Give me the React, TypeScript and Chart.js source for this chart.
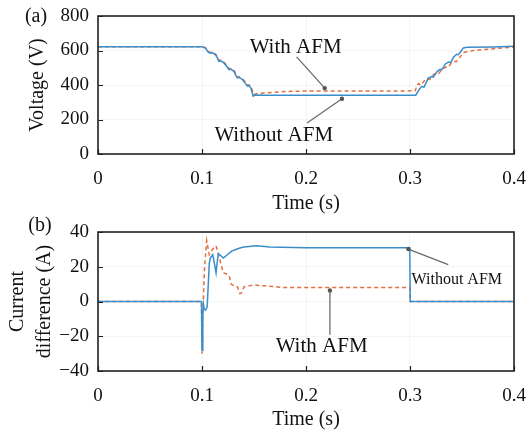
import React, { useEffect, useRef } from "react";
import { Chart, registerables } from "chart.js";

Chart.register(...registerables);

// ---------- data ----------
const xTicks = [0, 0.1, 0.2, 0.3, 0.4];
const voltageTicks = [0, 200, 400, 600, 800];
const currentTicks = [-40, -20, 0, 20, 40];

// (a) Voltage, Without AFM (blue, solid)
const voltTimeWithout = [
  0, 0.1, 0.1032, 0.106, 0.1081, 0.11, 0.113, 0.1145, 0.1162, 0.118, 0.121, 0.1235,
  0.1259, 0.1275, 0.1307, 0.1322, 0.134, 0.1355, 0.1388, 0.141, 0.1437, 0.145, 0.1469,
  0.1492, 0.151, 0.16, 0.3055, 0.309, 0.3112, 0.3135, 0.3176, 0.3208, 0.3225, 0.326,
  0.3288, 0.3305, 0.334, 0.337, 0.339, 0.342, 0.3449, 0.3465, 0.3495, 0.3513, 0.355,
  0.38, 0.4,
];
const voltWithout = [
  622, 622, 614, 590, 585, 588, 575, 560, 537, 540, 528, 510,
  489, 492, 479, 460, 441, 444, 432, 415, 393, 396, 384,
  336, 342, 341, 341, 376, 391, 388, 440, 449, 446, 478,
  491, 488, 522, 533, 530, 562, 578, 576, 600, 615, 619,
  621, 624,
];

// (a) Voltage, With AFM (orange, dashed)
const voltTimeWith = [
  0, 0.1, 0.1035, 0.1062, 0.1083, 0.1102, 0.1132, 0.1147, 0.1165, 0.1182, 0.1212,
  0.1237, 0.1262, 0.1278, 0.131, 0.1325, 0.1343, 0.1358, 0.139, 0.1412, 0.144, 0.1452,
  0.1472, 0.1495, 0.152, 0.16, 0.17, 0.18, 0.2, 0.305, 0.3068, 0.3085, 0.31, 0.314,
  0.317, 0.319, 0.3225, 0.3255, 0.3275, 0.331, 0.334, 0.336, 0.3395, 0.3425, 0.3445,
  0.348, 0.3513, 0.3609, 0.38, 0.4,
];
const voltWith = [
  622, 622, 616, 594, 588, 591, 578, 563, 541, 544, 532,
  514, 493, 496, 483, 464, 445, 448, 436, 420, 398, 401,
  392, 345, 350, 354, 358, 362, 365, 366, 400, 408, 398, 425,
  435, 432, 460, 470, 466, 492, 503, 500, 525, 538, 535,
  560, 588, 600, 610, 620,
];

// (b) Current difference, Without AFM (blue, solid)
const curTimeWithout = [
  0, 0.0995, 0.1, 0.1008, 0.1015, 0.102, 0.1035, 0.105, 0.107, 0.108, 0.1103, 0.1125,
  0.1135, 0.1145, 0.1157, 0.118, 0.1205, 0.1235, 0.1285, 0.135, 0.14, 0.1526, 0.165,
  0.2, 0.2998, 0.3002, 0.4,
];
const curWithout = [
  0, 0, -28, -8, -2, -4, -5, -3, 22, 25, 27, 20,
  16.5, 22, 27.5, 26.5, 25, 26.5, 29, 30.5, 31.4, 32.1, 31.3,
  31, 31, 0, 0,
];

// (b) Current difference, With AFM (orange, dashed)
const curTimeWith = [
  0, 0.0995, 0.1, 0.1005, 0.1025, 0.1045, 0.107, 0.11, 0.1135, 0.116, 0.118, 0.1205,
  0.123, 0.126, 0.128, 0.131, 0.134, 0.1365, 0.138, 0.1405, 0.145, 0.15, 0.16, 0.18,
  0.2998, 0.3002, 0.4,
];
const curWith = [
  0, 0, -30, -12, 20, 35, 27, 30, 32, 27, 22, 16.5,
  16, 15, 10, 9, 8.5, 4.5, 5, 8.5, 9, 9.5, 9, 8,
  8, 0, 0,
];

// annotations: text anchor + leader line (data coordinates), dot at (x2, y2)
const notesA = [
  { text: "With AFM", tx: 0.19, ty: 620, size: 21, x1: 0.191, y1: 563, x2: 0.218, y2: 382 },
  { text: "Without AFM", tx: 0.169, ty: 106, size: 21, x1: 0.201, y1: 180, x2: 0.2346, y2: 320 },
];
const notesB = [
  { text: "Without AFM", tx: 0.345, ty: 12.5, size: 16, x1: 0.3368, y1: 21.2, x2: 0.2984, y2: 30.2 },
  { text: "With AFM", tx: 0.215, ty: -25.8, size: 21, x1: 0.223, y1: -19.1, x2: 0.223, y2: 6.4 },
];

// ---------- styling ----------
const FONT = "'Liberation Serif', 'Times New Roman', serif";
const BLUE = "#3A8DCB";
const ORANGE = "#E2703F";
const INK = "#111";
const W = 528;
const H = 216;

const zip = (xs: number[], ys: number[]) => xs.map((x, i) => ({ x, y: ys[i] }));
const fmtX = (v: number) => (v === 0 ? "0" : Number(v).toFixed(1));
const fmtY = (v: number) => (v < 0 ? "\u2212" + Math.abs(v) : String(v));

const framePlugin = {
  id: "frame",
  afterDatasetsDraw(chart: any) {
    const { ctx, chartArea: a, scales } = chart;
    ctx.save();
    ctx.strokeStyle = "#222";
    ctx.lineWidth = 1.2;
    ctx.beginPath();
    scales.x.ticks.forEach((t: any) => {
      const px = Math.round(scales.x.getPixelForValue(t.value)) + 0.5;
      ctx.moveTo(px, a.bottom);
      ctx.lineTo(px, a.bottom - 5);
    });
    scales.y.ticks.forEach((t: any) => {
      const py = Math.round(scales.y.getPixelForValue(t.value)) + 0.5;
      ctx.moveTo(a.left, py);
      ctx.lineTo(a.left + 5, py);
    });
    ctx.stroke();
    ctx.lineWidth = 1.6;
    ctx.strokeRect(a.left, a.top, a.right - a.left, a.bottom - a.top);
    ctx.restore();
  },
};

function makeNotesPlugin(notes: any[], panel: string, px: number, py: number) {
  return {
    id: "notes",
    afterDraw(chart: any) {
      const { ctx, scales } = chart;
      const X = (v: number) => scales.x.getPixelForValue(v);
      const Y = (v: number) => scales.y.getPixelForValue(v);
      ctx.save();
      notes.forEach((n) => {
        ctx.strokeStyle = "#6b6b6b";
        ctx.lineWidth = 1.3;
        ctx.beginPath();
        ctx.moveTo(X(n.x1), Y(n.y1));
        ctx.lineTo(X(n.x2), Y(n.y2));
        ctx.stroke();
        ctx.fillStyle = "#555";
        ctx.beginPath();
        ctx.arc(X(n.x2), Y(n.y2), 2.2, 0, Math.PI * 2);
        ctx.fill();
        ctx.fillStyle = INK;
        ctx.font = `${n.size}px ${FONT}`;
        ctx.textAlign = "center";
        ctx.textBaseline = "middle";
        ctx.fillText(n.text, X(n.tx), Y(n.ty));
      });
      ctx.fillStyle = INK;
      ctx.font = `20px ${FONT}`;
      ctx.textAlign = "center";
      ctx.textBaseline = "middle";
      ctx.fillText(panel, px, py);
      ctx.restore();
    },
  };
}

function buildConfig(opts: {
  blue: { x: number; y: number }[];
  orange: { x: number; y: number }[];
  yMin: number;
  yMax: number;
  yTicks: number[];
  yTitle: string | string[];
  yTitlePad: number;
  yLineHeight: number;
  top: number;
  xAxisHeight: number;
  notes: any;
}) {
  return {
    type: "line",
    data: {
      datasets: [
        {
          label: "Without AFM",
          data: opts.blue,
          borderColor: BLUE,
          borderWidth: 1.5,
          pointRadius: 0,
          tension: 0,
          fill: false,
        },
        {
          label: "With AFM",
          data: opts.orange,
          borderColor: ORANGE,
          borderWidth: 1.5,
          borderDash: [4, 3],
          pointRadius: 0,
          tension: 0,
          fill: false,
        },
      ],
    },
    options: {
      responsive: false,
      animation: false,
      events: [],
      layout: { padding: { left: 0, right: 14, top: opts.top, bottom: 0 } },
      plugins: { legend: { display: false }, tooltip: { enabled: false }, title: { display: false } },
      scales: {
        x: {
          type: "linear",
          min: 0,
          max: 0.4,
          afterBuildTicks: (s: any) => {
            s.ticks = xTicks.map((v) => ({ value: v }));
          },
          afterFit: (s: any) => {
            s.height = opts.xAxisHeight;
            s.paddingLeft = 0;
            s.paddingRight = 0;
          },
          ticks: {
            callback: (v: any) => fmtX(Number(v)),
            font: { family: FONT, size: 19 },
            color: INK,
            padding: 14,
            maxRotation: 0,
            autoSkip: false,
          },
          grid: { color: "rgba(0,0,0,0.045)", drawTicks: false },
          border: { display: false },
          title: {
            display: true,
            text: "Time (s)",
            font: { family: FONT, size: 20, lineHeight: 1.2 },
            color: INK,
            padding: { top: 0, bottom: 0 },
          },
        },
        y: {
          type: "linear",
          min: opts.yMin,
          max: opts.yMax,
          afterBuildTicks: (s: any) => {
            s.ticks = opts.yTicks.map((v) => ({ value: v }));
          },
          afterFit: (s: any) => {
            s.width = 98;
            s.paddingTop = 0;
            s.paddingBottom = 0;
          },
          ticks: {
            callback: (v: any) => fmtY(Number(v)),
            font: { family: FONT, size: 19 },
            color: INK,
            padding: 9,
          },
          grid: { color: "rgba(0,0,0,0.045)", drawTicks: false },
          border: { display: false },
          title: {
            display: true,
            text: opts.yTitle,
            font: { family: FONT, size: 20, lineHeight: opts.yLineHeight },
            color: INK,
            padding: { top: opts.yTitlePad, bottom: 0 },
          },
        },
      },
    },
    plugins: [framePlugin, opts.notes],
  } as any;
}

export default function App() {
  const topRef = useRef<HTMLCanvasElement | null>(null);
  const botRef = useRef<HTMLCanvasElement | null>(null);

  useEffect(() => {
    const c1 = new Chart(
      topRef.current as HTMLCanvasElement,
      buildConfig({
        blue: zip(voltTimeWithout, voltWithout),
        orange: zip(voltTimeWith, voltWith),
        yMin: 0,
        yMax: 800,
        yTicks: voltageTicks,
        yTitle: "Voltage (V)",
        yTitlePad: 26,
        yLineHeight: 1.2,
        top: 16,
        xAxisHeight: 62,
        notes: makeNotesPlugin(notesA, "(a)", 36, 17),
      })
    );
    const c2 = new Chart(
      botRef.current as HTMLCanvasElement,
      buildConfig({
        blue: zip(curTimeWithout, curWithout),
        orange: zip(curTimeWith, curWith),
        yMin: -40,
        yMax: 40,
        yTicks: currentTicks,
        yTitle: ["Current", "difference (A)"],
        yTitlePad: 5,
        yLineHeight: 1.32,
        top: 16,
        xAxisHeight: 61,
        notes: makeNotesPlugin(notesB, "(b)", 40, 10),
      })
    );
    return () => {
      c1.destroy();
      c2.destroy();
    };
  }, []);

  return (
    <div style={{ position: "absolute", left: 0, top: 0, width: W, height: 2 * H, background: "#fff" }}>
      <canvas ref={topRef} width={W} height={H} style={{ position: "absolute", left: 0, top: 0, width: W, height: H }} />
      <canvas ref={botRef} width={W} height={H} style={{ position: "absolute", left: 0, top: H, width: W, height: H }} />
    </div>
  );
}
